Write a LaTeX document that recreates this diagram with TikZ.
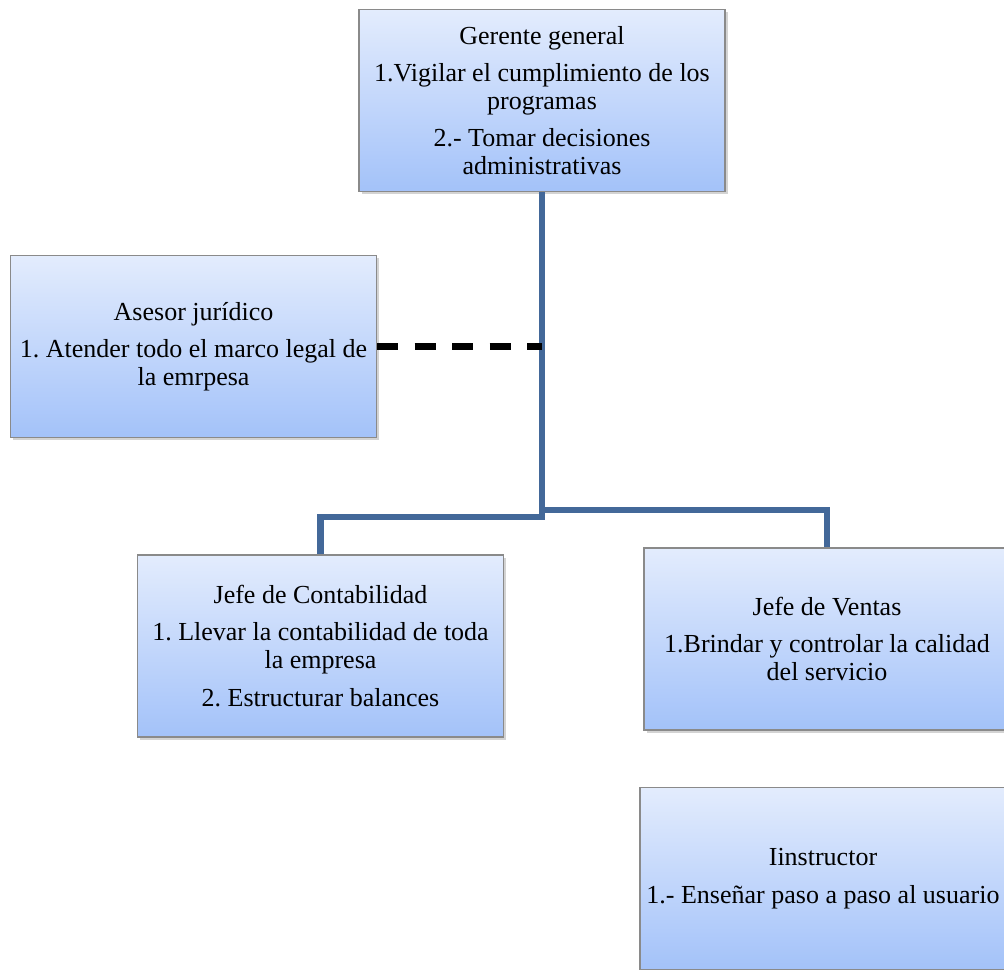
\documentclass[tikz,border=0pt]{standalone}
\usepackage{fontspec}
\setmainfont{Liberation Serif}
\usetikzlibrary{shadows}
\definecolor{boxtop}{RGB}{227,236,253}
\definecolor{boxbot}{RGB}{163,194,249}
\definecolor{boxedge}{RGB}{138,138,138}
\definecolor{linkblue}{RGB}{67,104,153}
\begin{document}
\frenchspacing
\begin{tikzpicture}[x=0.75pt,y=-0.75pt,
  rolebox/.style={draw=boxedge, line width=0.9pt, top color=boxtop, bottom color=boxbot,
    minimum width=274.5pt, minimum height=136.5pt, inner sep=0pt, align=center,
    font=\fontsize{19.5}{21}\selectfont,
    drop shadow={shadow xshift=2pt, shadow yshift=-2pt, opacity=0.35}},
  link/.style={draw=linkblue, line width=4.6pt},
  dashlink/.style={draw=black, line width=4.6pt, dash pattern=on 15.75pt off 12.4pt}]
\useasboundingbox (0,0) rectangle (1004,970);

% organisation boxes
\node[rolebox] (ger) at (542,100.5) {Gerente general\\[7pt]1.Vigilar el cumplimiento de los\\programas\\[7pt]2.- Tomar decisiones\\administrativas};
\node[rolebox] (ase) at (193.5,346.5) {Asesor jurídico\\[7pt]1. Atender todo el marco legal de\\la emrpesa};
\node[rolebox] (con) at (320.5,646) {Jefe de Contabilidad\\[7pt]1. Llevar la contabilidad de toda\\la empresa\\[7pt]2. Estructurar balances};
\node[rolebox] (ven) at (827,639) {Jefe de Ventas\\[7pt]1.Brindar y controlar la calidad\\del servicio};
\node[rolebox] (ins) at (823,878.5) {Iinstructor\\[7pt]1.- Enseñar paso a paso al usuario};

% reporting lines
\coordinate (busL) at (542,517);
\coordinate (busR) at (542,510);
\draw[link] (ger.south) -- (busL) -| (con.north);
\draw[link] (busR) -| (ven.north);

% advisory (staff) line
\draw[dashlink] (ase.east) -- (ase.east -| ger.south);
\end{tikzpicture}
\end{document}
